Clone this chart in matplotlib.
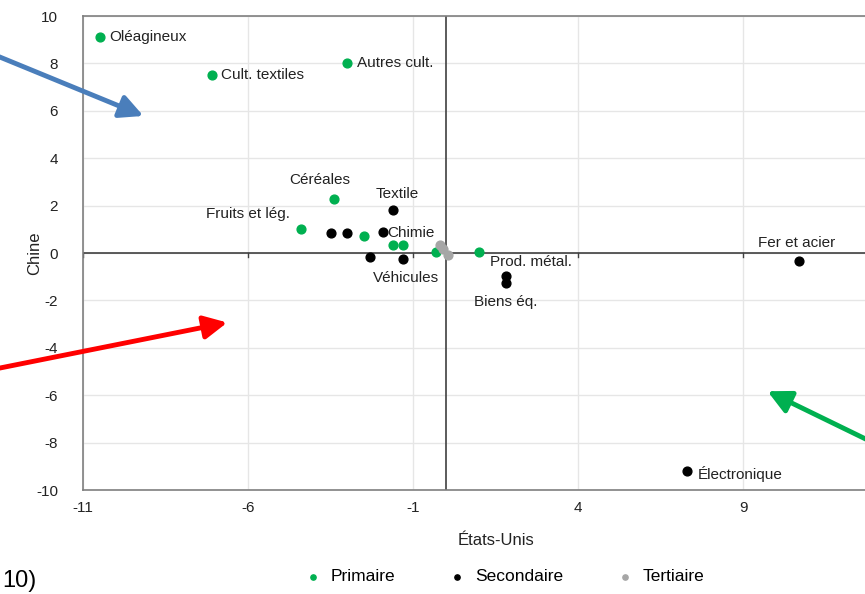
# Nuage de points : sensibilité par secteur, États-Unis vs Chine
import matplotlib
matplotlib.use("Agg")
import matplotlib.pyplot as plt
import numpy as np

plt.rcParams['font.family'] = ['Liberation Sans', 'DejaVu Sans']
plt.rcParams['axes.unicode_minus'] = False

# Données
prim_x = [-10.5, -7.1, -3.0, -3.4, -4.4, -2.5, -1.6, -1.3, -0.3, 1.0]
prim_y = [9.1, 7.5, 8.0, 2.3, 1.0, 0.7, 0.35, 0.35, 0.05, 0.05]
sec_x = [-3.5, -3.0, -1.9, -1.6, -2.3, -1.3, 1.8, 1.8, 10.7, 7.3]
sec_y = [0.85, 0.85, 0.9, 1.8, -0.15, -0.25, -0.95, -1.25, -0.35, -9.2]
ter_x = [-0.2, -0.1, 0.05]
ter_y = [0.35, 0.15, -0.1]

labels = ["Oléagineux", "Cult. textiles", "Autres cult.", "Céréales", "Fruits et lég.",
          "Textile", "Chimie", "Véhicules", "Prod. métal.", "Biens éq.",
          "Fer et acier", "Électronique"]
label_x = [-10.5, -7.1, -3.0, -3.4, -4.4, -1.6, -1.9, -1.3, 1.0, 1.8, 10.7, 7.3]
label_y = [9.1, 7.5, 8.0, 2.3, 1.0, 1.8, 0.9, -0.25, 0.05, -1.25, -0.35, -9.2]
label_off = [(7, 0), (7, 0), (7, 0), (-10, 13), (-8, 11), (3, 12), (3, -1), (2, -14),
             (8, -7), (0, -14), (-2, 13), (8, -2)]
label_ha = ["left", "left", "left", "center", "right", "center", "left", "center",
            "left", "center", "center", "left"]

xticks = [-11, -6, -1, 4, 9, 14]
xticklabels = ["-11", "-6", "-1", "4", "9", ""]
yticks = list(range(-10, 11, 2))

fig = plt.figure(figsize=(8.65, 5.94), dpi=100)
ax = fig.add_axes([0.096, 0.175, 0.954, 0.798])
ax.set_xlim(-11, 14)
ax.set_ylim(-10, 10)
ax.set_xticks(xticks)
ax.set_xticklabels(xticklabels)
ax.set_yticks(yticks)
ax.grid(True, color='#e6e6e6', lw=1)
ax.set_axisbelow(True)
for s in ax.spines.values():
    s.set_color('#7f7f7f')
    s.set_linewidth(1.2)
ax.tick_params(length=0, labelsize=11, colors='#222222')
ax.tick_params(axis='y', pad=18)
ax.tick_params(axis='x', pad=8)

# axes qui se croisent en zéro
ax.axhline(0, color='#404040', lw=1.2, zorder=1)
ax.axvline(0, color='#404040', lw=1.2, zorder=1)
for t in xticks:
    ax.plot([t, t], [0, -0.18], color='#404040', lw=1, zorder=1)

ax.scatter(prim_x, prim_y, s=40, color='#00b050', zorder=3, label='Primaire')
ax.scatter(sec_x, sec_y, s=40, color='black', zorder=3, label='Secondaire')
ax.scatter(ter_x, ter_y, s=40, color='#a6a6a6', zorder=3, label='Tertiaire')

for lab, x, y, off, ha in zip(labels, label_x, label_y, label_off, label_ha):
    ax.annotate(lab, (x, y), xytext=off, textcoords='offset points', ha=ha, va='center',
                fontsize=11, color='#222222')

ax.set_xlabel("États-Unis", fontsize=12, color='#222222')
ax.xaxis.set_label_coords(0.5, -0.09)
ax.set_ylabel("Chine", fontsize=12, color='#222222')
ax.yaxis.set_label_coords(-0.05, 0.5)

fig.legend(loc='lower center', bbox_to_anchor=(0.578, -0.01), ncol=3, frameon=False,
           fontsize=12.5, handletextpad=0.0, columnspacing=2.6, markerscale=0.6)

# flèches hors du graphique
arrows = [((-10, 541), (146, 477), '#4a7ebb'),
          ((-10, 224), (230, 272), '#ff0000'),
          ((880, 148), (765, 204), '#00b050')]
for start, end, col in arrows:
    fig.add_artist(matplotlib.patches.FancyArrowPatch(
        start, end, transform=None, arrowstyle='-|>,head_length=14,head_width=7',
        color=col, lw=3.5, mutation_scale=1))

fig.text(2 / 865, 2 / 594, "10)", ha='left', va='bottom', fontsize=17)

fig.savefig("out.png", dpi=100)
